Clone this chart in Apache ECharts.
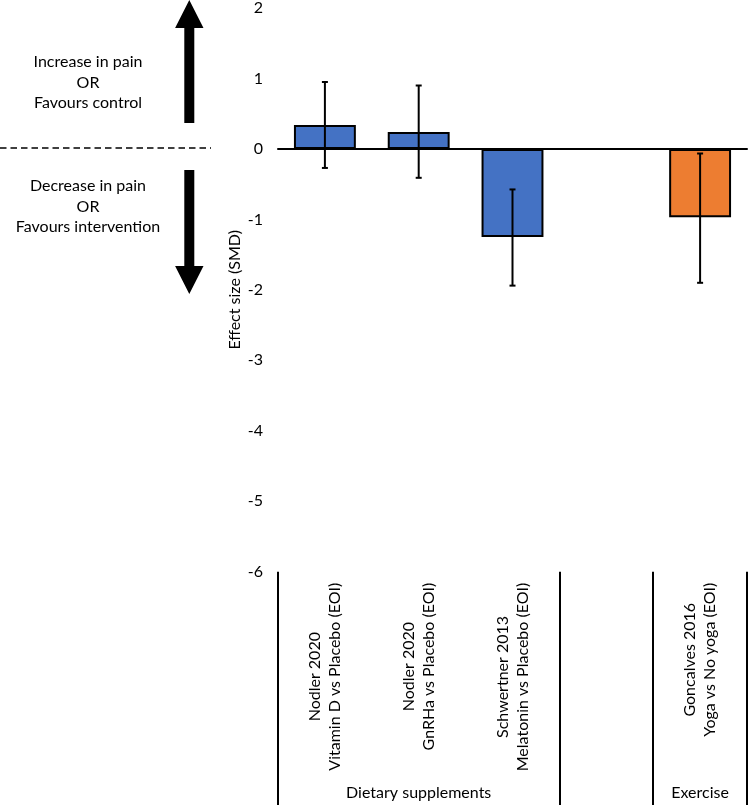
<!DOCTYPE html>
<html><head><meta charset="utf-8">
<script src="https://cdn.jsdelivr.net/npm/echarts@6/dist/echarts.min.js"></script>
<style>html,body{margin:0;padding:0;background:#fff}#c{width:749px;height:805px}</style>
</head><body><div id="c"></div>
<script>
// ---- data ----
const studies = ['Nodler 2020', 'Nodler 2020', 'Schwertner 2013', '', 'Goncalves 2016'];
const comparisons = ['Vitamin D vs Placebo (EOI)', 'GnRHa vs Placebo (EOI)', 'Melatonin vs Placebo (EOI)', '', 'Yoga vs No yoga (EOI)'];
const groupOf = ['Dietary supplements', 'Dietary supplements', 'Dietary supplements', '', 'Exercise'];
const groupLabels = ['', 'Dietary supplements', '', '', 'Exercise'];
const smd = [0.34, 0.24, -1.25, null, -0.97];
const ciLow = [-0.27, -0.41, -1.94, null, -1.90];
const ciHigh = [0.95, 0.90, -0.575, null, -0.065];
const yMin = -6, yMax = 2, yStep = 1;

// ---- styles ----
const FONT = 'Lato';
const FS = 16;
const groupColor = { 'Dietary supplements': '#4472C4', 'Exercise': '#ED7D31' };

const idx = studies.map((_, i) => i);
const barData = smd.map((v, i) => v == null ? null : {
  value: v,
  itemStyle: { color: groupColor[groupOf[i]] }
});
const errData = idx.filter(i => smd[i] != null).map(i => [i, ciLow[i], ciHigh[i]]);

const chart = echarts.init(document.getElementById('c'), null, { renderer: 'canvas' });
chart.setOption({
  animation: false,
  backgroundColor: '#fff',
  textStyle: { fontFamily: FONT },
  grid: { left: 278, right: 2, top: 6.4, bottom: 233.3, containLabel: false },
  xAxis: [
    {
      type: 'category', data: idx.map(String), gridIndex: 0,
      axisLine: { show: true, onZero: true, lineStyle: { color: '#000', width: 2 } },
      axisTick: { show: false }, axisLabel: { show: false }, splitLine: { show: false }
    },
    {
      type: 'category', data: idx.map(String), gridIndex: 0, position: 'bottom',
      axisLine: { show: false, onZero: false },
      axisTick: {
        show: true, length: 234, inside: false,
        interval: function (i) { return i === 0 || i === 3 || i === 4; },
        lineStyle: { color: '#000', width: 2 }
      },
      axisLabel: {
        show: true, interval: 0, rotate: 90, margin: 11,
        fontFamily: FONT, fontSize: FS, color: '#000',
        formatter: function (v, i) {
          if (!studies[i]) return '';
          return '{a|' + studies[i] + '}\n{a|' + comparisons[i] + '}';
        },
        rich: { a: { align: 'center', fontFamily: FONT, fontSize: FS, color: '#000', lineHeight: 20 } }
      },
      splitLine: { show: false }
    },
    {
      type: 'category', data: groupLabels, gridIndex: 0, position: 'bottom', offset: 205,
      axisLine: { show: false, onZero: false }, axisTick: { show: false },
      axisLabel: { show: true, interval: 0, margin: 8, fontFamily: FONT, fontSize: FS, color: '#000' },
      splitLine: { show: false }
    }
  ],
  yAxis: {
    type: 'value', min: yMin, max: yMax, interval: yStep,
    axisLine: { show: false }, axisTick: { show: false }, splitLine: { show: false },
    axisLabel: { margin: 15, fontFamily: FONT, fontSize: FS, color: '#000' },
    name: 'Effect size (SMD)', nameLocation: 'middle', nameGap: 35, nameMoveOverlap: false,
    nameTextStyle: { fontFamily: FONT, fontSize: FS, color: '#000' }
  },
  series: [
    {
      type: 'bar', xAxisIndex: 0, yAxisIndex: 0, data: barData, barWidth: '66%',
      itemStyle: { borderColor: '#000', borderWidth: 2 }
    },
    {
      type: 'custom', xAxisIndex: 0, yAxisIndex: 0, data: errData,
      encode: { x: 0, y: [1, 2] }, z: 10,
      renderItem: function (params, api) {
        const lo = api.coord([api.value(0), api.value(1)]);
        const hi = api.coord([api.value(0), api.value(2)]);
        const cap = 3;
        const st = { stroke: '#000', lineWidth: 2 };
        return {
          type: 'group', children: [
            { type: 'line', shape: { x1: lo[0], y1: lo[1], x2: hi[0], y2: hi[1] }, style: st },
            { type: 'line', shape: { x1: lo[0] - cap, y1: lo[1], x2: lo[0] + cap, y2: lo[1] }, style: st },
            { type: 'line', shape: { x1: hi[0] - cap, y1: hi[1], x2: hi[0] + cap, y2: hi[1] }, style: st }
          ]
        };
      }
    }
  ],
  graphic: [
    { type: 'line', shape: { x1: 0, y1: 148, x2: 211, y2: 148 }, style: { stroke: '#000', lineWidth: 1.3, lineDash: [6.5, 4] } },
    { type: 'polygon', shape: { points: [[189.3, 0], [203.5, 28], [194.3, 28], [194.3, 123], [184.3, 123], [184.3, 28], [175.1, 28]] }, style: { fill: '#000' } },
    { type: 'polygon', shape: { points: [[184.3, 170], [194.3, 170], [194.3, 266], [203.5, 266], [189.3, 294], [175.1, 266], [184.3, 266]] }, style: { fill: '#000' } },
    { type: 'text', x: 88, y: 82.5, style: { text: 'Increase in pain\nOR\nFavours control', font: FS + 'px Lato', fill: '#000', align: 'center', verticalAlign: 'middle', lineHeight: 20.5 } },
    { type: 'text', x: 88, y: 206.7, style: { text: 'Decrease in pain\nOR\nFavours intervention', font: FS + 'px Lato', fill: '#000', align: 'center', verticalAlign: 'middle', lineHeight: 20.5 } }
  ]
});
</script></body></html>
